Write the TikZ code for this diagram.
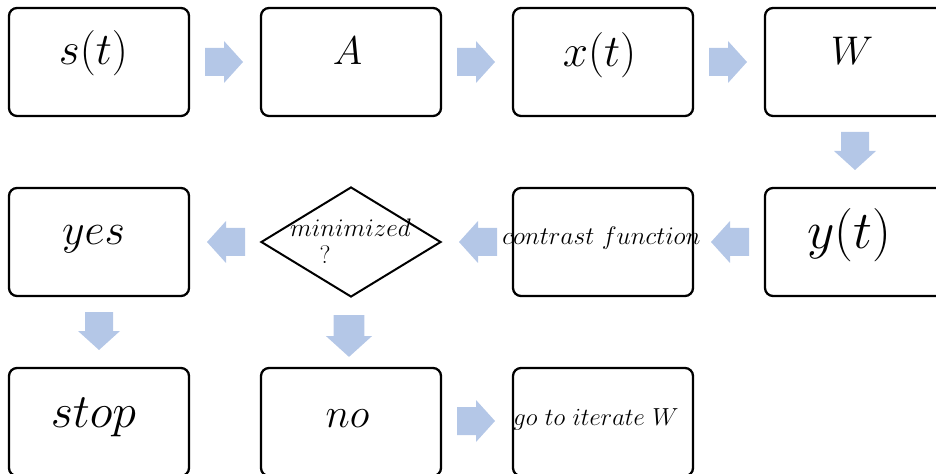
\documentclass[tikz,border=0pt]{standalone}
\usepackage{fix-cm}
\usetikzlibrary{shapes.geometric}
\definecolor{arrowblue}{HTML}{B4C7E7}
\newcommand{\fsz}[1]{\fontsize{#1}{#1}\selectfont}
\begin{document}
\begin{tikzpicture}[x=0.75pt,y=-0.75pt,
  box/.style={draw, line width=1.7pt, rounded corners=6pt,
    minimum width=135pt, minimum height=81pt, inner sep=0pt},
  decision/.style={draw, diamond, line width=1.5pt,
    minimum width=135pt, minimum height=82.5pt, inner sep=0pt},
  lbl/.style={inner sep=0pt, anchor=base},
  blockarrow/.pic={\fill[arrowblue] (-19,-14) -- (0,-14) -- (0,-21)
    -- (19,0) -- (0,21) -- (0,14) -- (-19,14) -- cycle;}]
\clip (0,0) rectangle (936,474);

% boxes
\node[box] (bs) at (99,62) {};
\node[box] (bA) at (351,62) {};
\node[box] (bx) at (603,62) {};
\node[box] (bW) at (855,62) {};
\node[box] (byes) at (99,242) {};
\node[decision] (dmin) at (351,242) {};
\node[box] (bcf) at (603,242) {};
\node[box] (by) at (855,242) {};
\node[box] (bstop) at (99,422) {};
\node[box] (bno) at (351,422) {};
\node[box] (bgo) at (603,422) {};

% labels
\node[lbl, font=\fsz{34}] (ls) at (93.5,65) {$s(t)$};
\node[lbl, font=\fsz{30}] (lA) at (347.5,65) {$A$};
\node[lbl, font=\fsz{34}] (lx) at (599.5,67) {$x(t)$};
\node[lbl, font=\fsz{30}] (lW) at (852,65) {$W$};
\node[lbl, font=\fsz{33}] (lyes) at (93.5,245) {$yes$};
\node[lbl, font=\fsz{19}] (lmin) at (350.5,237) {$minimized$};
\node[lbl, font=\fsz{19}] (lq) at (325,263) {?};
\node[lbl, font=\fsz{19}] (lcf) at (601.5,245) {$contrast\ function$};
\node[lbl, font=\fsz{40}] (ly) at (849.5,248) {$y(t)$};
\node[lbl, font=\fsz{36}] (lstop) at (93.5,427) {$stop$};
\node[lbl, font=\fsz{31}] (lno) at (347.5,427) {$no$};
\node[lbl, font=\fsz{18.5}] (lgo) at (596,425) {$go\ to\ iterate\ W$};

% block arrows
\pic at (224,62) {blockarrow};
\pic at (476,62) {blockarrow};
\pic at (728,62) {blockarrow};
\pic[rotate=-90] at (855,151) {blockarrow};
\pic[rotate=180] at (730,242) {blockarrow};
\pic[rotate=180] at (478,242) {blockarrow};
\pic[rotate=180] at (226,242) {blockarrow};
\pic[rotate=-90] at (99,331) {blockarrow};
\pic[rotate=-90, scale=1.1] at (349,336) {blockarrow};
\pic at (476,421) {blockarrow};
\end{tikzpicture}
\end{document}
